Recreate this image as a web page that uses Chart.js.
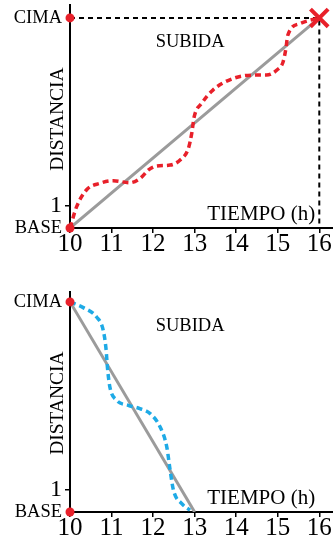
<!DOCTYPE html>
<html>
<head>
<meta charset="utf-8">
<script src="https://cdn.jsdelivr.net/npm/chart.js@4.4.1/dist/chart.umd.min.js"></script>
<style>
  html, body { margin: 0; padding: 0; background: #fff; }
  .box { position: absolute; left: 0; width: 333px; }
  #top { top: 0; height: 270px; }
  #bottom { top: 270px; height: 271px; }
</style>
</head>
<body>
<div class="box" id="top"><canvas id="subida" width="333" height="270"></canvas></div>
<div class="box" id="bottom"><canvas id="bajada" width="333" height="271"></canvas></div>
<script>
// values (x = hour, y = distance units, 1 unit = the "1" tick)
const CIMA = 9.55;
const hourTicks = [10, 11, 12, 13, 14, 15, 16];
const distTicks = [0, 1, CIMA];
const distLabels = ["BASE", "1", "CIMA"];

const subidaHours = [10, 10.16, 10.4, 10.72, 11.04, 11.44, 11.69, 11.89, 12.09, 12.41, 12.65, 12.85, 12.93, 12.99, 13.17, 13.44, 13.93, 14.41, 14.73, 14.98, 15.13, 15.2, 15.24, 15.54, 16];
const subidaDist = [0, 0.97, 1.74, 2.03, 2.15, 2.06, 2.26, 2.64, 2.82, 2.86, 3.09, 3.62, 4.3, 5.06, 5.67, 6.27, 6.8, 6.95, 6.95, 7.18, 7.56, 8.2, 8.75, 9.3, 9.55];
const subidaTrend = [[10, 0], [16, CIMA]];

const bajadaHours = [10, 10.32, 10.64, 10.8, 10.87, 10.9, 10.96, 11.12, 11.4, 11.68, 11.93, 12.17, 12.33, 12.41, 12.49, 12.69, 12.89];
const bajadaDist = [9.55, 9.29, 8.86, 8.26, 7.35, 6.59, 5.68, 5.08, 4.85, 4.7, 4.47, 3.86, 2.95, 1.9, 0.99, 0.38, 0.08];
const bajadaTrend = [[10, CIMA], [13, 0]];

const RED = "#e8202a";
const BLUE = "#1eaae6";
const GRAY = "#9b9b9b";
const SERIF = "'Liberation Serif', 'DejaVu Serif', serif";

function pts(xs, ys) {
  return xs.map((x, i) => ({ x: x, y: ys[i] }));
}

const textPlugin = {
  id: "texts",
  afterDraw(chart) {
    const ctx = chart.ctx;
    const x = chart.scales.x;
    const y = chart.scales.y;
    ctx.save();
    ctx.fillStyle = "#000";
    ctx.font = "18.5px " + SERIF;
    ctx.textAlign = "center";
    ctx.textBaseline = "middle";
    ctx.fillText("SUBIDA", x.getPixelForValue(12.89), y.getPixelForValue(8.47));

    ctx.font = "21px " + SERIF;
    ctx.textAlign = "right";
    ctx.textBaseline = "alphabetic";
    ctx.fillText("TIEMPO (h)", x.getPixelForValue(15.9), y.getPixelForValue(0.38));

    ctx.font = "19.5px " + SERIF;
    ctx.translate(x.left - 7, y.getPixelForValue(4.95));
    ctx.rotate(-Math.PI / 2);
    ctx.textAlign = "center";
    ctx.fillText("DISTANCIA", 0, 0);
    ctx.restore();
  }
};

function makeScales(yMax, xHeight) {
  return {
    x: {
      type: "linear",
      min: 10,
      max: 16.33,
      afterBuildTicks: (s) => { s.ticks = hourTicks.map(v => ({ value: v })); },
      afterFit: (s) => {
        s.height = xHeight;
        s.paddingLeft = 0;
        s.paddingRight = 0;
      },
      border: { display: true, color: "#000", width: 2 },
      grid: { drawOnChartArea: false, drawTicks: true, tickLength: 5, color: "#000", lineWidth: 1.5 },
      ticks: { color: "#000", padding: -4, font: { family: SERIF, size: 25 }, maxRotation: 0, autoSkip: false }
    },
    y: {
      type: "linear",
      min: 0,
      max: yMax,
      afterBuildTicks: (s) => { s.ticks = distTicks.map(v => ({ value: v })); },
      afterFit: (s) => {
        s.width = 70;
        s.paddingTop = 0;
        s.paddingBottom = 0;
      },
      border: { display: true, color: "#000", width: 2 },
      grid: {
        drawOnChartArea: false, drawTicks: true, tickLength: 5, lineWidth: 1.5,
        color: (c) => (c.tick && c.tick.value === 1 ? "#000" : "rgba(0,0,0,0)")
      },
      ticks: {
        color: "#000",
        padding: 3,
        autoSkip: false,
        callback: (v) => distLabels[distTicks.indexOf(v)],
        font: (c) => ({ family: SERIF, size: c.tick && c.tick.value === 1 ? 24 : 18.5 })
      }
    }
  };
}

function makeChart(id, padTop, xHeight, yMax, datasets) {
  return new Chart(document.getElementById(id), {
    type: "scatter",
    data: { datasets: datasets },
    options: {
      responsive: false,
      animation: false,
      devicePixelRatio: 1,
      layout: { autoPadding: false, padding: { top: padTop, left: 0, right: 0, bottom: 0 } },
      plugins: { legend: { display: false }, tooltip: { enabled: false } },
      scales: makeScales(yMax, xHeight)
    },
    plugins: [textPlugin]
  });
}

const topSets = [
  { data: [{ x: 10, y: 0 }, { x: 10, y: CIMA }], showLine: false, pointRadius: 4.5, pointBackgroundColor: RED, pointBorderWidth: 0, clip: false },
  { data: [{ x: 16, y: CIMA }], showLine: false, pointStyle: "crossRot", pointRadius: 12.5, pointBorderColor: RED, pointBorderWidth: 4, clip: false },
  { data: pts(subidaHours, subidaDist), showLine: true, pointRadius: 0, borderColor: RED, borderWidth: 3.5, borderDash: [6, 4], cubicInterpolationMode: "monotone", clip: false },
  { data: subidaTrend.map(p => ({ x: p[0], y: p[1] })), showLine: true, pointRadius: 0, borderColor: GRAY, borderWidth: 3 },
  { data: [{ x: 10, y: CIMA }, { x: 16, y: CIMA }, { x: 16, y: 0 }], showLine: true, pointRadius: 0, borderColor: "#000", borderWidth: 2, borderDash: [5, 4] }
];

const bottomSets = [
  { data: [{ x: 10, y: 0 }, { x: 10, y: CIMA }], showLine: false, pointRadius: 4.5, pointBackgroundColor: RED, pointBorderWidth: 0, clip: false },
  { data: pts(bajadaHours, bajadaDist), showLine: true, pointRadius: 0, borderColor: BLUE, borderWidth: 3.5, borderDash: [6, 4], cubicInterpolationMode: "monotone", clip: false },
  { data: bajadaTrend.map(p => ({ x: p[0], y: p[1] })), showLine: true, pointRadius: 0, borderColor: GRAY, borderWidth: 3 }
];

Chart.defaults.font.family = SERIF;

// top chart: axis runs y=5..228; bottom chart: y=22..242 (22px per unit)
const topChart = makeChart("subida", 5, 42, 223 / 22, topSets);
const bottomChart = makeChart("bajada", 22, 29, 220 / 22, bottomSets);
</script>
</body>
</html>
